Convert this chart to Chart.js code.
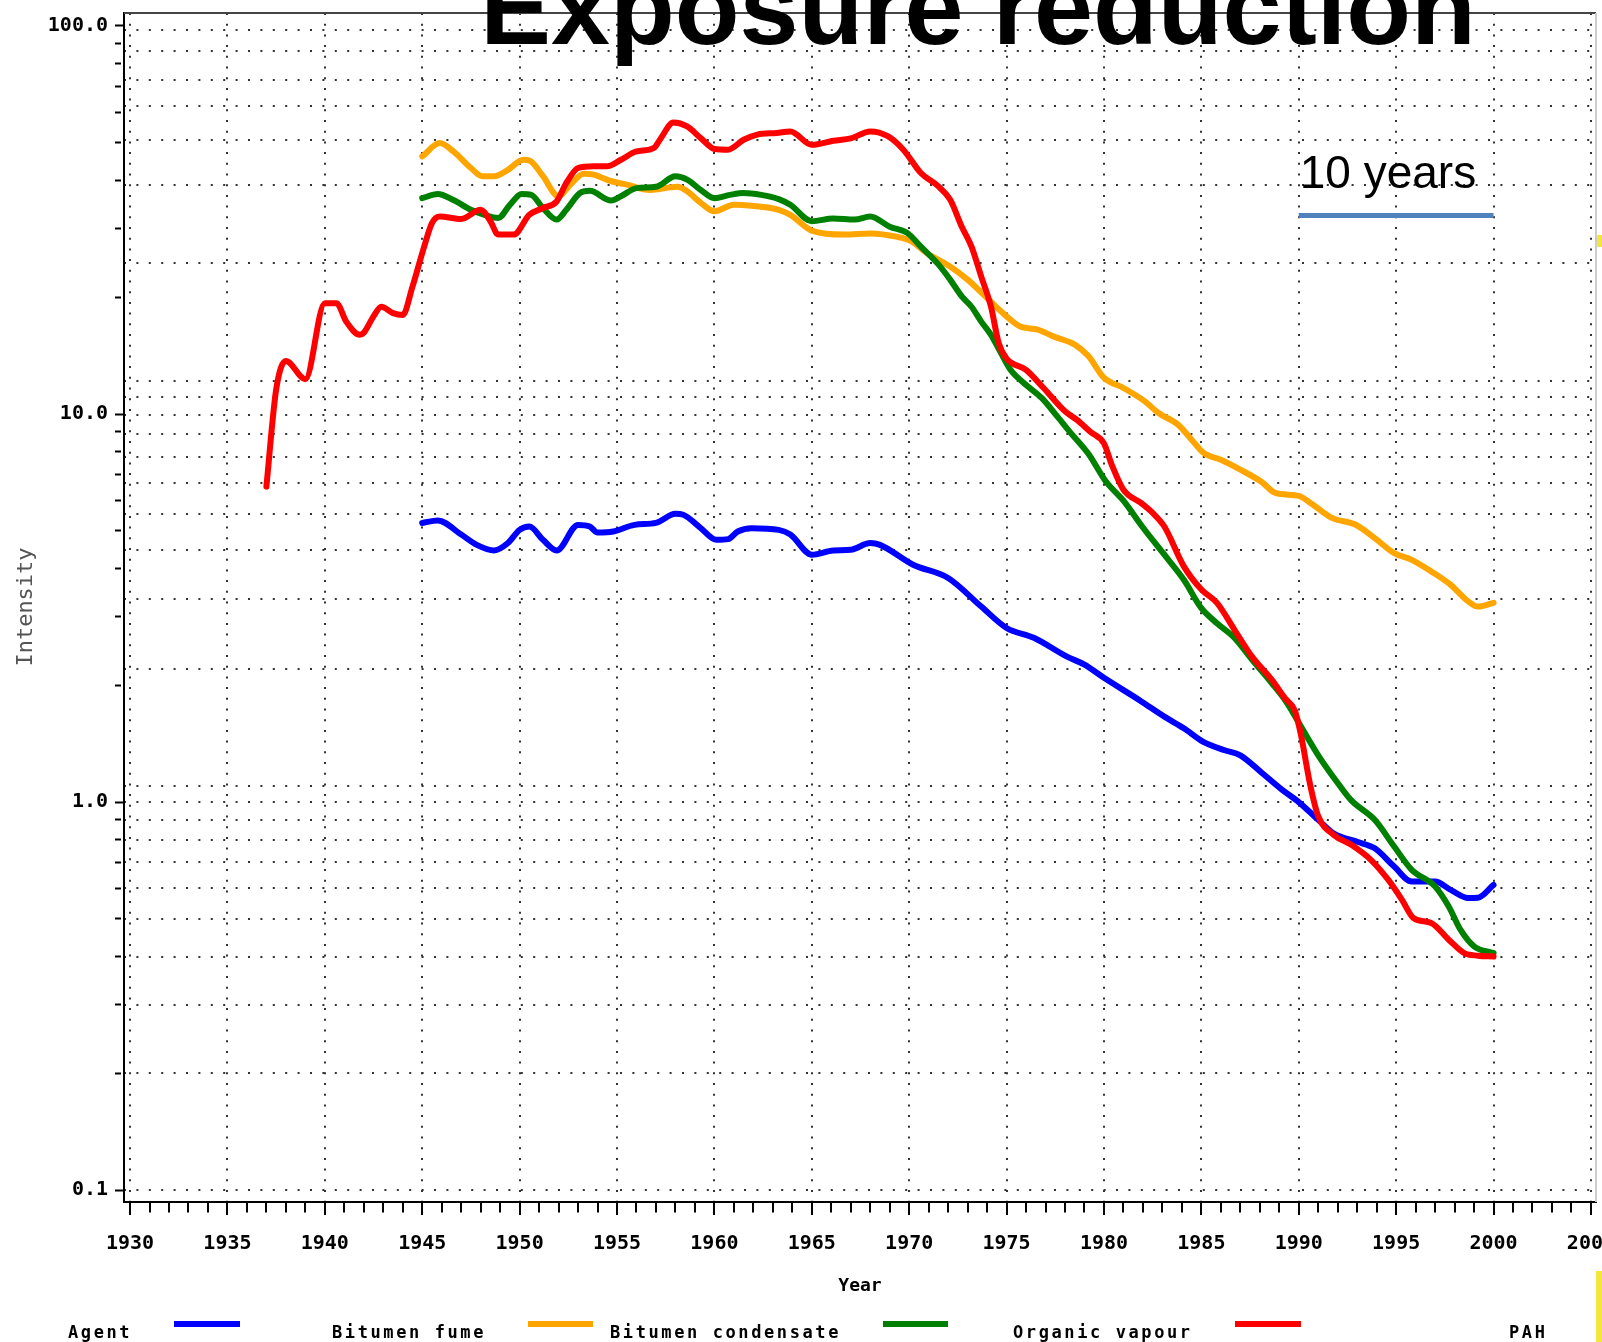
<!DOCTYPE html>
<html>
<head>
<meta charset="utf-8">
<title>Exposure reduction</title>
<script src="https://cdn.jsdelivr.net/npm/chart.js@4.4.1/dist/chart.umd.min.js"></script>
<style>
  html, body { margin: 0; padding: 0; background: #fff; }
  canvas { display: block; }
</style>
</head>
<body>
<canvas id="exposureChart" width="1602" height="1342"></canvas>
<script>
// Values: year, intensity (log scale)
const fumeYears = [1945, 1945.8, 1947, 1947.8, 1948.7, 1949.4, 1950, 1950.5, 1951.2, 1951.9, 1953, 1953.6, 1954, 1954.8, 1955.9, 1957, 1958, 1958.4, 1959.3, 1960.1, 1960.7, 1961.2, 1961.9, 1963.3, 1963.9, 1965, 1966.1, 1967, 1968, 1968.5, 1970.2, 1972, 1973.7, 1975, 1976.4, 1978.1, 1979, 1980, 1981.9, 1983.1, 1984.1, 1985.1, 1986.2, 1987, 1988.1, 1989.1, 1990, 1991, 1991.8, 1993, 1993.9, 1994.9, 1995.8, 1997, 1997.8, 1998.7, 1999.2, 2000];
const fumeValues = [5.24, 5.32, 4.89, 4.6, 4.45, 4.65, 5.03, 5.13, 4.74, 4.45, 5.18, 5.13, 4.95, 4.98, 5.18, 5.24, 5.53, 5.5, 5.08, 4.74, 4.76, 4.98, 5.08, 5.03, 4.89, 4.34, 4.45, 4.47, 4.65, 4.6, 4.09, 3.78, 3.19, 2.81, 2.65, 2.37, 2.26, 2.09, 1.82, 1.66, 1.55, 1.43, 1.36, 1.32, 1.19, 1.08, 1.0, 0.9, 0.83, 0.79, 0.76, 0.682, 0.624, 0.624, 0.594, 0.566, 0.567, 0.612];

const condYears = [1945, 1945.9, 1946.6, 1947.5, 1948.1, 1948.7, 1949.4, 1950.2, 1950.6, 1951.2, 1952, 1952.6, 1953.3, 1953.8, 1954.7, 1955.5, 1956.7, 1958.1, 1958.6, 1959.3, 1960, 1961, 1961.9, 1963.3, 1963.9, 1965, 1966.7, 1968, 1969.4, 1970.1, 1970.9, 1972.1, 1973, 1974, 1975, 1975.7, 1976.6, 1977.4, 1978.5, 1979.2, 1980, 1981, 1982.1, 1982.8, 1983.8, 1984.5, 1985.1, 1986, 1987, 1988.1, 1988.8, 1990, 1990.6, 1991.7, 1992.9, 1993.9, 1994.9, 1995.8, 1996.8, 1997.8, 1998.7, 1999.2, 2000];
const condValues = [46.1, 49.9, 47.5, 43.05, 41.0, 41.0, 42.6, 45.2, 44.7, 41.0, 36.4, 39.0, 41.6, 41.4, 39.8, 39.0, 37.8, 38.5, 37.5, 35.0, 33.3, 34.6, 34.4, 33.6, 32.6, 29.7, 29.0, 29.2, 28.6, 27.9, 26.0, 24.0, 22.2, 19.9, 17.85, 16.8, 16.5, 15.85, 15.1, 14.1, 12.4, 11.67, 10.78, 10.06, 9.39, 8.59, 7.95, 7.62, 7.19, 6.68, 6.26, 6.15, 5.9, 5.4, 5.19, 4.79, 4.38, 4.21, 3.93, 3.63, 3.29, 3.19, 3.26];

const vapourYears = [1945, 1945.8, 1946.6, 1947.5, 1948.2, 1948.9, 1949.5, 1950.1, 1950.6, 1951.2, 1951.9, 1952.4, 1953.1, 1953.6, 1954.7, 1955.2, 1956, 1957, 1958, 1958.6, 1959.3, 1960, 1960.8, 1961.5, 1962.4, 1963.3, 1963.9, 1965, 1966.1, 1967.2, 1968, 1969, 1969.9, 1970.6, 1971.5, 1972.1, 1972.7, 1973.2, 1973.7, 1974.2, 1974.7, 1975.2, 1975.9, 1976.8, 1977.6, 1978.3, 1979.2, 1980.1, 1981, 1982, 1983.1, 1984.1, 1985, 1985.8, 1986.7, 1987.6, 1988.6, 1989.4, 1990.1, 1991, 1992, 1992.7, 1993.9, 1994.9, 1995.8, 1997, 1997.7, 1998.3, 1999, 2000];
const vapourValues = [36.0, 36.9, 35.6, 33.6, 32.6, 32.0, 34.6, 36.9, 36.7, 33.95, 31.7, 33.6, 37.1, 37.6, 35.5, 36.4, 38.2, 38.5, 41.0, 40.2, 37.8, 36.0, 36.7, 37.1, 36.7, 35.8, 34.6, 31.4, 31.9, 31.7, 32.3, 30.4, 29.3, 27.0, 24.3, 22.2, 20.1, 18.9, 17.3, 16.0, 14.4, 13.0, 12.0, 11.0, 9.86, 8.93, 7.9, 6.7, 5.98, 5.1, 4.34, 3.74, 3.16, 2.89, 2.65, 2.33, 2.03, 1.80, 1.57, 1.32, 1.12, 1.01, 0.90, 0.768, 0.669, 0.606, 0.538, 0.469, 0.425, 0.408];

const pahYears = [1937, 1937.5, 1938, 1939, 1940, 1940.6, 1941.1, 1941.8, 1942, 1942.5, 1942.9, 1943.5, 1944, 1944.5, 1945.1, 1945.5, 1945.9, 1947, 1948, 1948.5, 1948.9, 1949.7, 1950.5, 1951.2, 1951.9, 1952.4, 1953, 1953.8, 1954.5, 1955.2, 1956, 1956.9, 1957.2, 1957.9, 1958.6, 1959.3, 1960, 1960.7, 1961.5, 1962.2, 1963.2, 1963.9, 1965, 1966.1, 1967, 1968, 1968.9, 1969.7, 1970.6, 1971.5, 1972.1, 1972.7, 1973.2, 1973.7, 1974.2, 1974.6, 1975, 1976, 1976.9, 1978, 1978.6, 1979.3, 1980, 1980.4, 1981, 1981.9, 1982.5, 1983.1, 1984.1, 1985, 1985.8, 1986.7, 1987.6, 1988.6, 1989.3, 1989.8, 1990.1, 1990.6, 1991, 1991.8, 1992.7, 1993.7, 1994.6, 1995.3, 1995.9, 1996.8, 1997.7, 1998.5, 1999.2, 2000];
const pahValues = [6.5, 11.55, 13.7, 12.3, 19.3, 19.3, 17.3, 16.0, 16.2, 17.85, 18.9, 18.2, 18.0, 21.3, 27.0, 31.05, 32.3, 31.8, 33.6, 31.4, 29.0, 29.0, 32.6, 33.95, 35.3, 39.4, 43.05, 43.5, 43.5, 45.2, 47.5, 48.5, 50.9, 56.4, 55.1, 51.4, 48.2, 48.0, 50.9, 52.5, 53.0, 53.5, 49.4, 50.6, 51.3, 53.5, 52.0, 48.0, 41.8, 38.6, 35.7, 30.4, 27.0, 22.6, 18.9, 15.2, 13.9, 13.0, 11.67, 10.16, 9.67, 9.0, 8.4, 7.4, 6.38, 5.9, 5.56, 5.13, 4.05, 3.53, 3.26, 2.78, 2.37, 2.07, 1.85, 1.72, 1.5, 1.1, 0.92, 0.823, 0.776, 0.71, 0.63, 0.56, 0.502, 0.488, 0.442, 0.408, 0.402, 0.40];

// the "10 years" scale bar
const barYears = [1990, 2000];
const barValues = [32.5, 32.5];

// axes
const xMajorYears = [1930, 1935, 1940, 1945, 1950, 1955, 1960, 1965, 1970, 1975, 1980, 1985, 1990, 1995, 2000, 2005];
const yTickValues = [0.1, 0.2, 0.3, 0.4, 0.5, 0.6, 0.7, 0.8, 0.9, 1, 2, 3, 4, 5, 6, 7, 8, 9, 10, 20, 30, 40, 50, 60, 70, 80, 90, 100];
const yGridValues = [0.1, 0.2, 0.3, 0.4, 0.5, 0.6, 0.7, 0.8, 0.9, 1.0, 1.1, 2.2, 3.34, 4.46, 5.51, 6.64, 7.74, 8.88, 9.94, 11.06, 12.16, 24.5, 38.9, 50.9, 62.1, 72.7, 86, 97.4];

const seriesLabels = ['Bitumen fume', 'Bitumen condensate', 'Organic vapour', 'PAH'];
const seriesColors = ['#0000ff', '#ffa500', '#008000', '#ff0000'];

function pairs(xs, ys) {
    return xs.map((x, i) => ({ x: x, y: ys[i] }));
}

function isDecade(v) {
    const l = Math.log10(v);
    return Math.abs(l - Math.round(l)) < 1e-9;
}

// every year gets a tick mark, only every fifth one a label and grid line
const yearTicks = [];
for (let y = 1930; y <= 2005; y++) yearTicks.push(y);

const monoFont = 'DejaVu Sans Mono';

// title, frame, axis label, legend and the "10 years" note
const decorations = {
    id: 'decorations',
    afterDraw(chart) {
        const ctx = chart.ctx;
        const area = chart.chartArea;
        const xs = chart.scales.x;
        const ys = chart.scales.y;
        ctx.save();

        ctx.lineWidth = 2;
        ctx.strokeStyle = '#444';
        ctx.beginPath();
        ctx.moveTo(area.left, area.top);
        ctx.lineTo(area.right, area.top);
        ctx.stroke();
        ctx.strokeStyle = '#cccccc';
        ctx.beginPath();
        ctx.moveTo(area.right, area.top);
        ctx.lineTo(area.right, area.bottom);
        ctx.stroke();

        // y axis label
        ctx.save();
        ctx.translate(32, 607);
        ctx.rotate(-Math.PI / 2);
        ctx.fillStyle = '#555';
        ctx.font = '22px "' + monoFont + '"';
        ctx.textAlign = 'center';
        ctx.textBaseline = 'alphabetic';
        ctx.fillText('Intensity', 0, 0);
        ctx.restore();

        // legend row
        ctx.fillStyle = '#000';
        ctx.font = 'bold 17px "' + monoFont + '"';
        ctx.letterSpacing = '2.6px';
        ctx.textAlign = 'left';
        ctx.textBaseline = 'alphabetic';
        ctx.fillText('Agent', 68, 1338);
        const swatchX = [[174, 240], [528, 593], [883, 948], [1235, 1301]];
        const labelX = [332, 610, 1013, 1509];
        for (let i = 0; i < seriesLabels.length; i++) {
            ctx.fillStyle = seriesColors[i];
            ctx.fillRect(swatchX[i][0], 1321, swatchX[i][1] - swatchX[i][0], 6);
            ctx.fillStyle = '#000';
            ctx.fillText(seriesLabels[i], labelX[i], 1338);
        }
        ctx.letterSpacing = '0px';

        // scale bar note
        ctx.fillStyle = '#000';
        ctx.font = '46px "Liberation Sans", Arial, sans-serif';
        ctx.fillText('10 years', xs.getPixelForValue(barYears[0]) + 1, ys.getPixelForValue(barValues[0]) - 27);

        // slide title, sitting over the frame
        ctx.font = 'bold 106px "Liberation Sans", Arial, sans-serif';
        ctx.textAlign = 'center';
        ctx.fillText('Exposure reduction', 978, 44);

        // yellow slide remnants at the right edge
        ctx.fillStyle = '#f3e63c';
        ctx.fillRect(1597, 235, 5, 12);
        ctx.fillRect(1596, 1271, 6, 71);
        ctx.restore();
    }
};

const ctx = document.getElementById('exposureChart').getContext('2d');
const exposureChart = new Chart(ctx, {
    type: 'line',
    data: {
        datasets: [
            { label: seriesLabels[0], data: pairs(fumeYears, fumeValues), borderColor: seriesColors[0], order: 4 },
            { label: seriesLabels[1], data: pairs(condYears, condValues), borderColor: seriesColors[1], order: 3 },
            { label: seriesLabels[2], data: pairs(vapourYears, vapourValues), borderColor: seriesColors[2], order: 2 },
            { label: seriesLabels[3], data: pairs(pahYears, pahValues), borderColor: seriesColors[3], order: 1 },
            { label: '10 years', data: pairs(barYears, barValues), borderColor: '#4f81bd', borderWidth: 5, borderCapStyle: 'butt', order: 0 }
        ]
    },
    options: {
        responsive: false,
        animation: false,
        devicePixelRatio: 1,
        layout: { autoPadding: false, padding: { left: 0, right: 6, top: 13, bottom: 0 } },
        elements: {
            point: { radius: 0, hoverRadius: 0 },
            line: { borderWidth: 6, cubicInterpolationMode: 'monotone', fill: false, borderCapStyle: 'round', borderJoinStyle: 'round' }
        },
        plugins: {
            legend: { display: false },
            tooltip: { enabled: false }
        },
        scales: {
            x: {
                type: 'linear',
                position: 'bottom',
                min: 1929.69,
                max: 2005.26,
                afterBuildTicks: s => { s.ticks = yearTicks.map(v => ({ value: v })); },
                afterFit: s => {
                    s.height = 140;
                    // let the last label run off the edge like in the source slide
                    s.paddingLeft = 0;
                    s.paddingRight = 0;
                },
                ticks: {
                    autoSkip: false,
                    maxRotation: 0,
                    minRotation: 0,
                    padding: 17,
                    color: '#000',
                    font: { family: monoFont, size: 20, weight: 'bold' },
                    callback: v => (xMajorYears.includes(v) ? String(v) : '')
                },
                grid: {
                    color: '#333',
                    lineWidth: c => (c.tick && xMajorYears.includes(c.tick.value) ? 2 : 0),
                    tickLength: 13,
                    tickWidth: 2,
                    tickColor: '#000',
                    tickBorderDash: c => (c.tick && xMajorYears.includes(c.tick.value) ? [] : [9.5, 40])
                },
                border: { display: true, color: '#000', width: 2, dash: [2, 8.7] },
                title: {
                    display: true,
                    text: 'Year',
                    color: '#000',
                    font: { family: monoFont, size: 18, weight: 'bold' },
                    padding: { top: 0, bottom: 45 }
                }
            },
            y: {
                type: 'logarithmic',
                position: 'left',
                min: 0.0932,
                max: 108,
                afterBuildTicks: s => { s.ticks = yTickValues.map(v => ({ value: v })); },
                afterFit: s => {
                    s.width = 124;
                    s.paddingTop = 0;
                    s.paddingBottom = 0;
                },
                ticks: {
                    autoSkip: false,
                    padding: 7,
                    color: '#000',
                    font: { family: monoFont, size: 20, weight: 'bold' },
                    callback: v => (isDecade(v) ? Number(v).toFixed(1) : '')
                },
                grid: {
                    drawOnChartArea: false,
                    tickLength: 9,
                    tickWidth: 2,
                    tickColor: '#000',
                    tickBorderDash: c => (c.tick && isDecade(c.tick.value) ? [] : [6, 40])
                },
                border: { display: true, color: '#000', width: 2 }
            },
            yGrid: {
                type: 'logarithmic',
                position: 'left',
                min: 0.0932,
                max: 108,
                afterBuildTicks: s => { s.ticks = yGridValues.map(v => ({ value: v })); },
                afterFit: s => { s.width = 0; },
                ticks: { display: false },
                grid: { drawTicks: false, color: '#333', lineWidth: 2 },
                border: { display: false, dash: [2, 10.4] }
            }
        }
    },
    plugins: [decorations]
});
</script>
</body>
</html>
